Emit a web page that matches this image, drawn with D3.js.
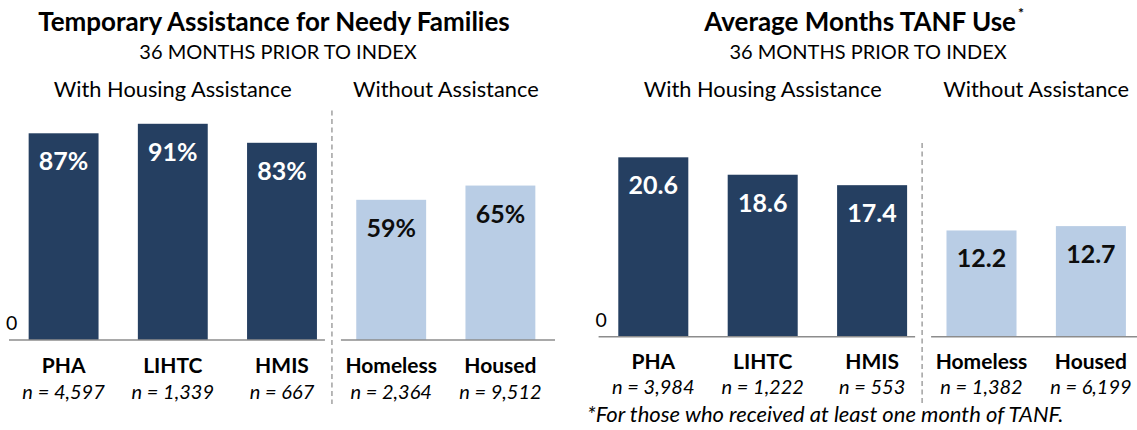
<!DOCTYPE html>
<html>
<head>
<meta charset="utf-8">
<script src="https://cdn.jsdelivr.net/npm/d3@7"></script>
<style>
  html, body { margin: 0; padding: 0; background: #ffffff; }
  svg { display: block; font-family: Lato, "Open Sans", sans-serif; }
</style>
</head>
<body>
<svg id="chart" width="1137" height="430"></svg>
<script>
// Categories and groups shared by both panels
const categories = ["PHA", "LIHTC", "HMIS", "Homeless", "Housed"];
const groupOf = ["with", "with", "with", "without", "without"];
const groupLabels = { with: "With Housing Assistance", without: "Without Assistance" };

// Share of families receiving TANF (%), 36 months prior to index
const tanfShare = [87, 91, 83, 59, 65];
const tanfShareN = ["4,597", "1,339", "667", "2,364", "9,512"];

// Average months of TANF use, 36 months prior to index
const tanfMonths = [20.6, 18.6, 17.4, 12.2, 12.7];
const tanfMonthsN = ["3,984", "1,222", "553", "1,382", "6,199"];

const zeroTick = ["0"];

const DARK = "#253f61";
const LIGHT = "#b9cde5";

const svg = d3.select("#chart");

const panels = [
  {
    title: "Temporary Assistance for Needy Families",
    star: false,
    subtitle: "36 MONTHS PRIOR TO INDEX",
    values: tanfShare,
    ns: tanfShareN,
    fmt: v => v + "%",
    yDomain: [0, 100],
    xRange: [9, 555],
    axisY: 340,
    yTop: 102.4,
    nOffset: 59
  },
  {
    title: "Average Months TANF Use",
    star: true,
    subtitle: "36 MONTHS PRIOR TO INDEX",
    values: tanfMonths,
    ns: tanfMonthsN,
    fmt: d3.format(".1f"),
    yDomain: [0, 25],
    xRange: [598.6, 1145.6],
    axisY: 336.7,
    yTop: 119,
    nOffset: 57
  }
];

panels.forEach(p => {
  const g = svg.append("g");

  const x = d3.scaleBand()
    .domain(categories)
    .range(p.xRange)
    .paddingInner(0.36)
    .paddingOuter(0.18);

  const y = d3.scaleLinear()
    .domain(p.yDomain)
    .range([p.axisY, p.yTop]);

  const rows = categories.map((c, i) => ({
    cat: c, value: p.values[i], n: p.ns[i], group: groupOf[i]
  }));

  const bw = x.bandwidth();
  const firstBar = x(categories[0]);
  const lastBar = x(categories[categories.length - 1]) + bw;
  const centerX = (firstBar + lastBar) / 2;

  // Title and subtitle
  const title = g.append("text")
    .attr("x", centerX - 8)
    .attr("y", 31)
    .attr("text-anchor", "middle")
    .attr("font-size", 26)
    .attr("font-weight", 700)
    .attr("fill", "#000")
    .text(p.title);
  if (p.star) {
    title.append("tspan")
      .attr("dy", -13)
      .attr("dx", 2)
      .attr("font-size", 14)
      .text("*");
  }

  g.append("text")
    .attr("x", centerX - 4)
    .attr("y", 59)
    .attr("text-anchor", "middle")
    .attr("font-size", 20)
    .attr("fill", "#000")
    .text(p.subtitle);

  // Group headings
  ["with", "without"].forEach(key => {
    const members = rows.filter(r => r.group === key);
    const gx0 = x(members[0].cat);
    const gx1 = x(members[members.length - 1].cat) + bw;
    g.append("text")
      .attr("x", (gx0 + gx1) / 2)
      .attr("y", 97)
      .attr("text-anchor", "middle")
      .attr("font-size", 21.8)
      .attr("fill", "#000")
      .text(groupLabels[key]);
  });

  // Bars
  g.selectAll("rect.bar")
    .data(rows)
    .join("rect")
    .attr("class", "bar")
    .attr("x", d => x(d.cat))
    .attr("y", d => y(d.value))
    .attr("width", bw)
    .attr("height", d => y(0) - y(d.value))
    .attr("fill", d => d.group === "with" ? DARK : LIGHT);

  // Value labels inside bars
  g.selectAll("text.val")
    .data(rows)
    .join("text")
    .attr("class", "val")
    .attr("x", d => x(d.cat) + bw / 2)
    .attr("y", d => y(d.value) + 37)
    .attr("text-anchor", "middle")
    .attr("font-size", 25)
    .attr("font-weight", 700)
    .attr("fill", d => d.group === "with" ? "#ffffff" : "#0d0d0d")
    .text(d => p.fmt(d.value));

  // Divider between the two groups
  const dashX = x("HMIS") + bw + 15;
  g.append("line")
    .attr("x1", dashX).attr("x2", dashX)
    .attr("y1", y(p.yDomain[1]) + (p.star ? 24 : 8))
    .attr("y2", 404)
    .attr("stroke", "#9a9a9a")
    .attr("stroke-width", 1.4)
    .attr("stroke-dasharray", "5,3.5");

  // Baseline, split around the divider
  [[p.xRange[0], dashX - 7], [dashX + 9, p.xRange[1]]].forEach(([a, b]) => {
    g.append("line")
      .attr("x1", a).attr("x2", b)
      .attr("y1", y(0)).attr("y2", y(0))
      .attr("stroke", "#8c8c8c")
      .attr("stroke-width", 1.6);
  });

  // Zero tick label
  g.append("text")
    .attr("x", p.xRange[0] - 3)
    .attr("y", y(0) - 10)
    .attr("font-size", 19.5)
    .attr("fill", "#000")
    .text(zeroTick[0]);

  // Category names
  g.selectAll("text.cat")
    .data(rows)
    .join("text")
    .attr("class", "cat")
    .attr("x", d => x(d.cat) + bw / 2)
    .attr("y", y(0) + 32.7)
    .attr("text-anchor", "middle")
    .attr("font-size", 21)
    .attr("font-weight", 700)
    .attr("fill", "#000")
    .text(d => d.cat);

  // Sample sizes
  g.selectAll("text.n")
    .data(rows)
    .join("text")
    .attr("class", "n")
    .attr("x", d => x(d.cat) + bw / 2)
    .attr("y", y(0) + p.nOffset)
    .attr("text-anchor", "middle")
    .attr("font-size", 20)
    .attr("font-style", "italic")
    .attr("fill", "#000")
    .text(d => "n = " + d.n);
});

// Footnote for the average-months panel
svg.append("text")
  .attr("x", 587)
  .attr("y", 422)
  .attr("font-size", 22)
  .attr("font-style", "italic")
  .attr("fill", "#000")
  .text("*For those who received at least one month of TANF.");
</script>
</body>
</html>
